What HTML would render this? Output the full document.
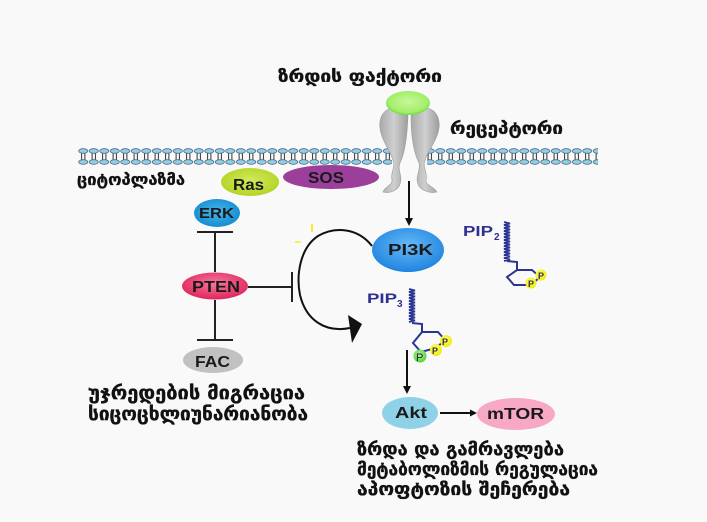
<!DOCTYPE html>
<html><head><meta charset="utf-8">
<style>
html,body{margin:0;padding:0;background:#f9f9f9;}
svg{display:block;}
.geo{font-family:"DejaVu Sans","Liberation Sans",sans-serif;font-weight:bold;fill:#111;stroke:#111;stroke-width:0.35;}
.lbl{font-family:"Liberation Sans","DejaVu Sans",sans-serif;font-weight:bold;fill:#1a1a1a;}
.pip{font-family:"Liberation Sans","DejaVu Sans",sans-serif;font-weight:bold;fill:#2e3192;}
</style></head>
<body>
<svg width="707" height="522" viewBox="0 0 707 522" xmlns="http://www.w3.org/2000/svg">
<defs>
  <pattern id="mem" patternUnits="userSpaceOnUse" x="78" y="146" width="10.5" height="20">
    <line x1="3.6" y1="6" x2="3.6" y2="15" stroke="#333" stroke-width="1"/>
    <line x1="6.9" y1="6" x2="6.9" y2="15" stroke="#333" stroke-width="1"/>
    <ellipse cx="5.25" cy="5" rx="4.6" ry="2.3" fill="#93cde6" stroke="#4d6d82" stroke-width="0.8"/>
    <ellipse cx="5.25" cy="16" rx="4.6" ry="2.3" fill="#93cde6" stroke="#4d6d82" stroke-width="0.8"/>
  </pattern>
  <radialGradient id="gGreen" cx="50%" cy="45%" r="55%">
    <stop offset="0" stop-color="#c8f79a"/><stop offset="0.8" stop-color="#a2ef6a"/><stop offset="1" stop-color="#6edc3a"/>
  </radialGradient>
  <linearGradient id="gGray" x1="0" y1="0" x2="1" y2="0">
    <stop offset="0" stop-color="#a9a9a9"/><stop offset="0.5" stop-color="#cfcfcf"/><stop offset="1" stop-color="#9d9d9d"/>
  </linearGradient>
  <radialGradient id="gERK" cx="50%" cy="45%" r="60%">
    <stop offset="0" stop-color="#45b6ec"/><stop offset="1" stop-color="#1289cc"/>
  </radialGradient>
  <radialGradient id="gRas" cx="50%" cy="45%" r="60%">
    <stop offset="0" stop-color="#d2ea5c"/><stop offset="1" stop-color="#b0d222"/>
  </radialGradient>
  <radialGradient id="gPTEN" cx="50%" cy="40%" r="60%">
    <stop offset="0" stop-color="#f67a9c"/><stop offset="1" stop-color="#e0245c"/>
  </radialGradient>
  <radialGradient id="gPI3K" cx="50%" cy="40%" r="60%">
    <stop offset="0" stop-color="#66b9f7"/><stop offset="1" stop-color="#1f84df"/>
  </radialGradient>
  <radialGradient id="gY" cx="45%" cy="40%" r="60%">
    <stop offset="0" stop-color="#ffff8a"/><stop offset="1" stop-color="#f0ea00"/>
  </radialGradient>
  <radialGradient id="gG" cx="45%" cy="40%" r="60%">
    <stop offset="0" stop-color="#b6f5a0"/><stop offset="1" stop-color="#4fd43a"/>
  </radialGradient>
</defs>

<!-- membrane -->
<rect x="78" y="146" width="314" height="20" fill="url(#mem)"/>
<rect x="427" y="146" width="171" height="20" fill="url(#mem)"/>

<!-- receptor -->
<path d="M408 116 C404 104,382 104,380 122 C378 136,390 150,393 160 C396 168,390 172,392 180 C393 185,385 186,383 192 C390 194,398 190,400 184 C403 176,397 170,400 163 C404 155,407 140,408 116 Z" fill="url(#gGray)" stroke="#9a9a9a" stroke-width="0.6"/>
<path d="M411 116 C415 104,437 104,439 122 C441 136,428 150,425 160 C422 168,428 172,426 180 C425 185,433 186,437 192 C430 194,420 190,418 184 C415 176,421 170,419 163 C415 155,411 140,411 116 Z" fill="url(#gGray)" stroke="#9a9a9a" stroke-width="0.6"/>
<ellipse cx="408" cy="103" rx="22" ry="12" fill="url(#gGreen)"/>

<!-- texts top -->
<text class="geo" x="278" y="82" font-size="17" textLength="164" lengthAdjust="spacingAndGlyphs">ზრდის ფაქტორი</text>
<text class="geo" x="450" y="134" font-size="17" textLength="113" lengthAdjust="spacingAndGlyphs">რეცეპტორი</text>
<text class="geo" x="77" y="185" font-size="16" textLength="108" lengthAdjust="spacingAndGlyphs">ციტოპლაზმა</text>

<!-- Ras, SOS -->
<ellipse cx="250" cy="182" rx="29" ry="14" fill="url(#gRas)"/>
<text class="lbl" x="233" y="190" font-size="16" textLength="31" lengthAdjust="spacingAndGlyphs">Ras</text>
<ellipse cx="331" cy="177" rx="48" ry="12" fill="#9b3f9a"/>
<text class="lbl" x="308" y="183" font-size="16" textLength="36" lengthAdjust="spacingAndGlyphs">SOS</text>

<!-- ERK -->
<ellipse cx="217" cy="213" rx="23" ry="14" fill="url(#gERK)"/>
<text class="lbl" x="199" y="218" font-size="15" textLength="35" lengthAdjust="spacingAndGlyphs">ERK</text>

<!-- ERK-PTEN inhibition -->
<line x1="215" y1="232" x2="215" y2="272" stroke="#222" stroke-width="2"/>
<line x1="197" y1="232" x2="233" y2="232" stroke="#222" stroke-width="2"/>

<!-- PTEN -->
<ellipse cx="215" cy="286" rx="33" ry="13.5" fill="url(#gPTEN)"/>
<text class="lbl" x="192" y="292" font-size="16" textLength="48" lengthAdjust="spacingAndGlyphs">PTEN</text>

<!-- PTEN-FAC inhibition -->
<line x1="215" y1="300" x2="215" y2="340" stroke="#222" stroke-width="2"/>
<line x1="197" y1="340" x2="233" y2="340" stroke="#222" stroke-width="2"/>

<!-- FAC -->
<ellipse cx="213" cy="360" rx="30" ry="13" fill="#c1c1c1"/>
<text class="lbl" x="195" y="367" font-size="16" textLength="35" lengthAdjust="spacingAndGlyphs">FAC</text>

<!-- PTEN horizontal inhibition -->
<line x1="248" y1="287" x2="292" y2="287" stroke="#222" stroke-width="2"/>
<line x1="292" y1="272" x2="292" y2="302" stroke="#222" stroke-width="2"/>

<!-- curved arrow -->
<path d="M372 246 C358 228,335 226,318 236 C300 248,296 275,300 295 C306 320,325 333,350 328" fill="none" stroke="#111" stroke-width="2"/>
<polygon points="348,315 362,324 352,343" fill="#111"/>
<line x1="312" y1="224" x2="312" y2="232" stroke="#f2ee30" stroke-width="2"/>
<line x1="295" y1="242" x2="301" y2="242" stroke="#f2ee30" stroke-width="1.5"/>

<!-- receptor to PI3K arrow -->
<line x1="409" y1="181" x2="409" y2="219" stroke="#111" stroke-width="2"/>
<polygon points="405,218 413,218 409,226" fill="#111"/>

<!-- PI3K -->
<ellipse cx="408" cy="250" rx="36" ry="22" fill="url(#gPI3K)"/>
<text class="lbl" x="388" y="255" font-size="16" textLength="45" lengthAdjust="spacingAndGlyphs">PI3K</text>

<!-- PIP2 -->
<text class="pip" x="463" y="236" font-size="15" textLength="30" lengthAdjust="spacingAndGlyphs">PIP</text>
<text class="pip" x="494" y="240" font-size="10" font-weight="normal">2</text>
<path d="M504 222 l6 1.5 l-6 1.5 l6 1.5 l-6 1.5 l6 1.5 l-6 1.5 l6 1.5 l-6 1.5 l6 1.5 l-6 1.5 l6 1.5 l-6 1.5 l6 1.5 l-6 1.5 l6 1.5 l-6 1.5 l6 1.5 l-6 1.5 l6 1.5 l-6 1.5 l6 1.5 l-6 1.5 l6 1.5 l-6 1.5 l6 1.5 l-6 1.5" fill="none" stroke="#2b3591" stroke-width="1.8"/>
<polyline points="507,261 517,262 517,270" fill="none" stroke="#2b3591" stroke-width="2"/>
<polygon points="517,270 532,270 540,277 531,285 514,285 507,277" fill="none" stroke="#2b3591" stroke-width="2"/>
<circle cx="531" cy="283" r="5.5" fill="url(#gY)"/>
<circle cx="541" cy="275" r="5.5" fill="url(#gY)"/>
<text x="528" y="287" font-family="Liberation Sans,sans-serif" font-size="9" font-weight="bold" fill="#333">P</text>
<text x="538" y="279" font-family="Liberation Sans,sans-serif" font-size="9" font-weight="bold" fill="#333">P</text>

<!-- PIP3 -->
<text class="pip" x="367" y="303" font-size="14" textLength="30" lengthAdjust="spacingAndGlyphs">PIP</text>
<text class="pip" x="397" y="307" font-size="10" font-weight="normal">3</text>
<path d="M409 289 l6 1.5 l-6 1.5 l6 1.5 l-6 1.5 l6 1.5 l-6 1.5 l6 1.5 l-6 1.5 l6 1.5 l-6 1.5 l6 1.5 l-6 1.5 l6 1.5 l-6 1.5 l6 1.5 l-6 1.5 l6 1.5 l-6 1.5 l6 1.5 l-6 1.5 l6 1.5 l-6 1.5" fill="none" stroke="#2b3591" stroke-width="1.8"/>
<polyline points="412,323 422,324 422,332" fill="none" stroke="#2b3591" stroke-width="2"/>
<polygon points="422,332 438,332 445,340 436,348 421,352 413,343" fill="none" stroke="#2b3591" stroke-width="2"/>
<circle cx="420" cy="356" r="6.5" fill="url(#gG)"/>
<circle cx="436" cy="350" r="6" fill="url(#gY)"/>
<circle cx="446" cy="341" r="6" fill="url(#gY)"/>
<text x="416" y="361" font-family="Liberation Sans,sans-serif" font-size="11" fill="#222">P</text>
<text x="432" y="354" font-family="Liberation Sans,sans-serif" font-size="9" font-weight="bold" fill="#333">P</text>
<text x="442" y="345" font-family="Liberation Sans,sans-serif" font-size="9" font-weight="bold" fill="#333">P</text>

<!-- PIP3 to Akt arrow -->
<line x1="407" y1="350" x2="407" y2="387" stroke="#111" stroke-width="2"/>
<polygon points="403,386 411,386 407,394" fill="#111"/>

<!-- Akt -->
<ellipse cx="410" cy="413" rx="28" ry="16" fill="#8fd1e7"/>
<text class="lbl" x="395" y="418" font-size="16" textLength="32" lengthAdjust="spacingAndGlyphs">Akt</text>

<!-- Akt to mTOR arrow -->
<line x1="440" y1="413" x2="471" y2="413" stroke="#111" stroke-width="2"/>
<polygon points="470,409.5 477,413 470,416.5" fill="#111"/>

<!-- mTOR -->
<ellipse cx="516" cy="414" rx="39" ry="16" fill="#f6a8c4"/>
<text class="lbl" x="487" y="419" font-size="16" textLength="57" lengthAdjust="spacingAndGlyphs">mTOR</text>

<!-- bottom texts -->
<text class="geo" x="88" y="399" font-size="19" textLength="217" lengthAdjust="spacingAndGlyphs">უჯრედების მიგრაცია</text>
<text class="geo" x="88" y="420" font-size="19" textLength="220" lengthAdjust="spacingAndGlyphs">სიცოცხლიუნარიანობა</text>

<text class="geo" x="357" y="455" font-size="18" textLength="207" lengthAdjust="spacingAndGlyphs">ზრდა და გამრავლება</text>
<text class="geo" x="357" y="475" font-size="18" textLength="241" lengthAdjust="spacingAndGlyphs">მეტაბოლიზმის რეგულაცია</text>
<text class="geo" x="357" y="495" font-size="18" textLength="213" lengthAdjust="spacingAndGlyphs">აპოფტოზის შეჩერება</text>
</svg>
</body></html>
